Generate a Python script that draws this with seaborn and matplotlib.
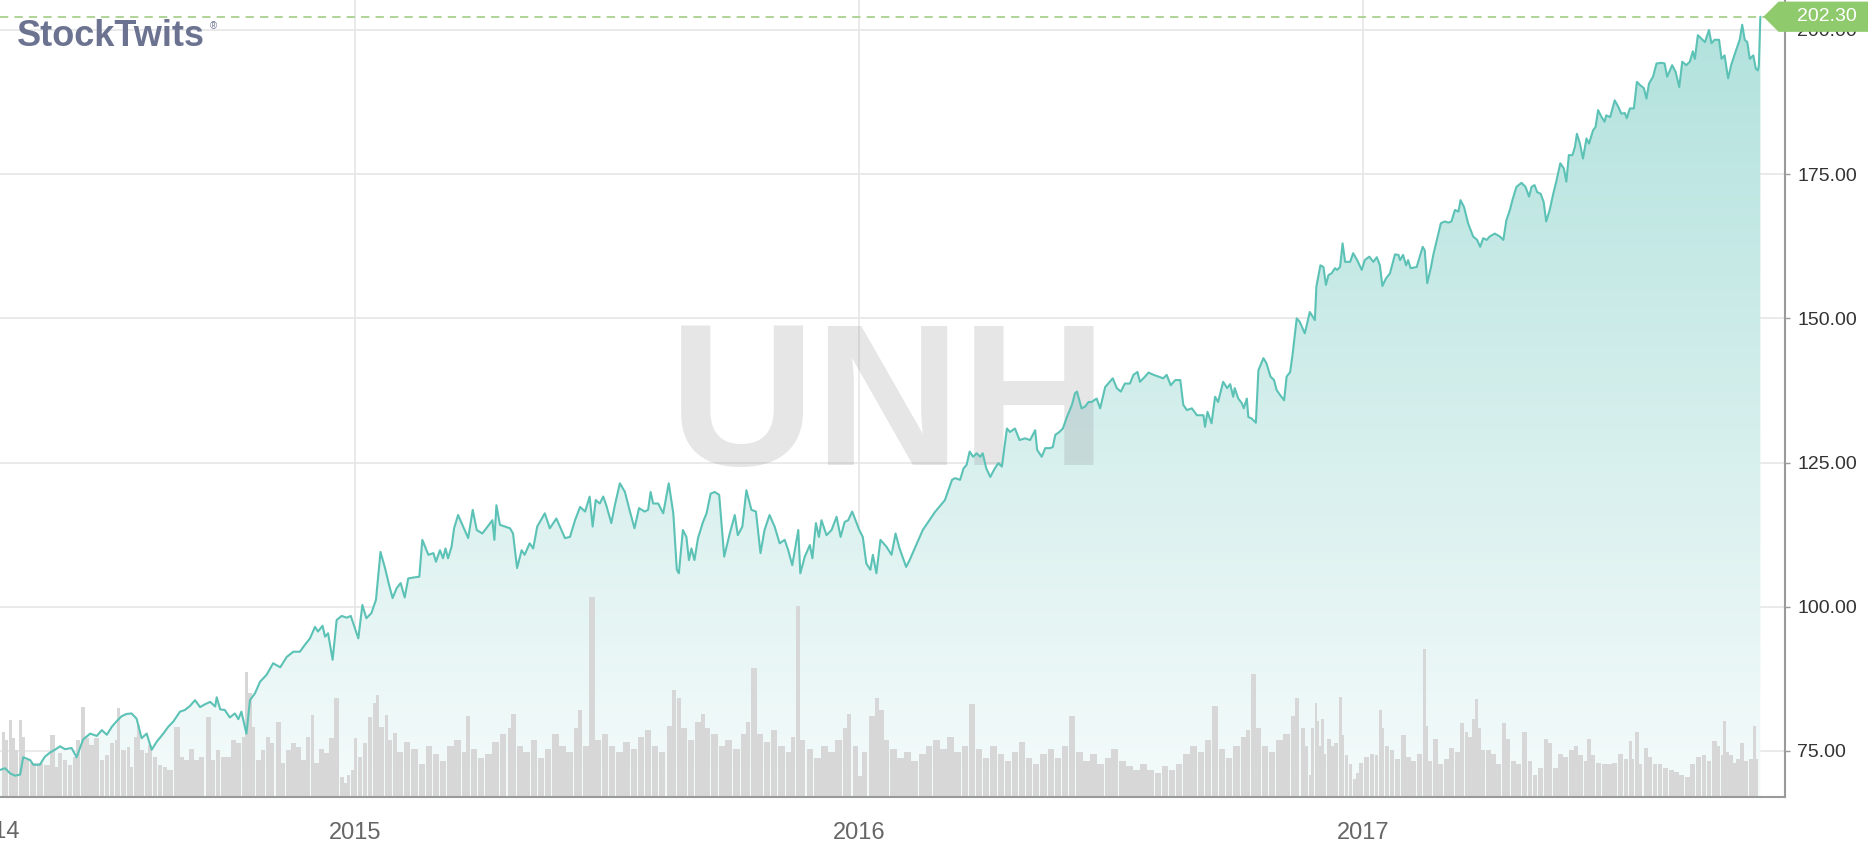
import numpy as np
import pandas as pd
import seaborn as sns
import matplotlib.pyplot as plt
from matplotlib.colors import LinearSegmentedColormap
from matplotlib.path import Path
from matplotlib.transforms import blended_transform_factory

# UNH close, x given as decimal year
price_year = [
    2014.296, 2014.306, 2014.316, 2014.326, 2014.336, 2014.342, 2014.356, 2014.362, 2014.375, 2014.385,
    2014.395, 2014.405, 2014.415, 2014.425, 2014.438, 2014.448, 2014.461, 2014.475, 2014.488, 2014.498,
    2014.508, 2014.518, 2014.527, 2014.537, 2014.547, 2014.557, 2014.567, 2014.577, 2014.587, 2014.597,
    2014.607, 2014.620, 2014.630, 2014.640, 2014.653, 2014.663, 2014.673, 2014.683, 2014.693, 2014.703,
    2014.713, 2014.723, 2014.726, 2014.733, 2014.742, 2014.752, 2014.762, 2014.769, 2014.775, 2014.785,
    2014.792, 2014.802, 2014.812, 2014.825, 2014.838, 2014.852, 2014.865, 2014.878,
    2014.891, 2014.901, 2014.911, 2014.921, 2014.927, 2014.936, 2014.941, 2014.947, 2014.956, 2014.964,
    2014.974, 2014.984, 2014.992, 2015.000, 2015.007, 2015.015, 2015.023, 2015.033, 2015.042, 2015.051,
    2015.060, 2015.068, 2015.075, 2015.083, 2015.091, 2015.099, 2015.106, 2015.119, 2015.128, 2015.134,
    2015.146, 2015.156, 2015.161, 2015.169, 2015.175, 2015.180, 2015.185, 2015.192, 2015.197, 2015.205,
    2015.215, 2015.225, 2015.234, 2015.242, 2015.253, 2015.261, 2015.273, 2015.277, 2015.281, 2015.288,
    2015.298, 2015.308, 2015.314, 2015.322, 2015.331, 2015.337, 2015.347, 2015.354, 2015.362, 2015.377,
    2015.387, 2015.400, 2015.410, 2015.417, 2015.427, 2015.437, 2015.447, 2015.457, 2015.466, 2015.472,
    2015.478,
    2015.486, 2015.493, 2015.499, 2015.509, 2015.516, 2015.526, 2015.536, 2015.546, 2015.555, 2015.564,
    2015.575, 2015.582, 2015.587, 2015.592, 2015.602, 2015.612, 2015.623, 2015.632, 2015.639, 2015.643,
    2015.651, 2015.658, 2015.663, 2015.668, 2015.674, 2015.681, 2015.691, 2015.698, 2015.706, 2015.714,
    2015.723, 2015.733, 2015.744, 2015.754, 2015.760, 2015.769, 2015.777, 2015.787, 2015.796, 2015.805,
    2015.813, 2015.823, 2015.833, 2015.843, 2015.853, 2015.860, 2015.868, 2015.880, 2015.884, 2015.893,
    2015.903, 2015.908, 2015.915, 2015.921, 2015.926, 2015.936, 2015.946, 2015.956, 2015.964, 2015.972,
    2015.979, 2015.987, 2016.001, 2016.008, 2016.015, 2016.023, 2016.028, 2016.035, 2016.043, 2016.055,
    2016.065, 2016.073, 2016.081, 2016.094, 2016.101, 2016.127, 2016.151, 2016.171,
    2016.185, 2016.191, 2016.201, 2016.208, 2016.214, 2016.220, 2016.227, 2016.234, 2016.241, 2016.246,
    2016.253, 2016.261, 2016.270, 2016.277, 2016.284, 2016.294, 2016.300, 2016.310, 2016.319, 2016.330,
    2016.340, 2016.350, 2016.354, 2016.363, 2016.370, 2016.380, 2016.385, 2016.390, 2016.398, 2016.405,
    2016.413, 2016.423, 2016.429, 2016.433, 2016.442, 2016.449, 2016.456, 2016.462, 2016.472, 2016.479,
    2016.489, 2016.495, 2016.504, 2016.512, 2016.520, 2016.528, 2016.538, 2016.545, 2016.553, 2016.558,
    2016.568, 2016.575, 2016.585, 2016.595, 2016.604, 2016.611, 2016.619, 2016.628, 2016.638, 2016.644,
    2016.651, 2016.661, 2016.671,
    2016.677, 2016.684, 2016.687, 2016.692, 2016.700, 2016.707, 2016.713, 2016.723, 2016.731, 2016.737,
    2016.743, 2016.746, 2016.753, 2016.760, 2016.764, 2016.770, 2016.773, 2016.780, 2016.788, 2016.793,
    2016.803, 2016.809, 2016.817, 2016.824, 2016.829, 2016.836, 2016.844, 2016.849, 2016.856, 2016.861,
    2016.869, 2016.875, 2016.885, 2016.895, 2016.905, 2016.908, 2016.916, 2016.922, 2016.927, 2016.932,
    2016.938, 2016.945, 2016.949, 2016.955, 2016.960, 2016.965, 2016.975, 2016.981, 2016.989, 2016.998,
    2017.004, 2017.013, 2017.021, 2017.028, 2017.034, 2017.039, 2017.046, 2017.054, 2017.064, 2017.071,
    2017.074, 2017.080, 2017.086, 2017.090, 2017.095, 2017.107, 2017.119, 2017.123, 2017.128, 2017.135,
    2017.140, 2017.147, 2017.155, 2017.163, 2017.170, 2017.176, 2017.183, 2017.190, 2017.194, 2017.201,
    2017.209, 2017.219, 2017.227, 2017.233, 2017.239, 2017.246,
    2017.252, 2017.262, 2017.272, 2017.279, 2017.285, 2017.292, 2017.297, 2017.305, 2017.315, 2017.323,
    2017.330, 2017.335, 2017.341, 2017.346, 2017.353, 2017.359, 2017.364, 2017.371, 2017.378, 2017.384,
    2017.392, 2017.399, 2017.404, 2017.409, 2017.416, 2017.421, 2017.425, 2017.431, 2017.437, 2017.444,
    2017.449, 2017.457, 2017.462, 2017.467, 2017.474, 2017.480, 2017.483, 2017.491, 2017.500, 2017.507,
    2017.513, 2017.520, 2017.524, 2017.530, 2017.538, 2017.544, 2017.551, 2017.558, 2017.563, 2017.568,
    2017.576, 2017.583, 2017.593, 2017.599, 2017.604, 2017.614, 2017.621, 2017.628, 2017.634, 2017.642,
    2017.649, 2017.655, 2017.659, 2017.665, 2017.672, 2017.679, 2017.687, 2017.692, 2017.698, 2017.707,
    2017.712, 2017.718, 2017.725, 2017.731, 2017.740, 2017.748, 2017.753, 2017.758, 2017.763, 2017.768,
    2017.775, 2017.780, 2017.784, 2017.786, 2017.789,
]
price_close = [
    71.7, 72.0, 71.1, 70.7, 70.9, 73.9, 73.4, 72.6, 72.6, 74.0,
    74.7, 75.2, 75.8, 75.3, 75.5, 73.9, 77.0, 78.0, 77.6, 78.6,
    77.8, 79.2, 80.1, 81.0, 81.4, 81.5, 80.6, 77.2, 78.0, 75.2,
    76.6, 78.0, 79.2, 80.1, 81.8, 82.1, 82.8, 83.8, 82.6, 83.1,
    83.5, 82.7, 84.3, 82.2, 82.1, 80.8, 81.5, 80.5, 81.8, 78.0,
    83.8, 85.0, 87.0, 88.2, 90.2, 89.5, 91.3, 92.2,
    92.2, 93.4, 94.5, 96.5, 95.7, 96.7, 94.8, 95.4, 90.8, 97.7,
    98.4, 98.1, 98.4, 96.3, 94.5, 100.3, 98.0, 98.9, 101.2, 109.5,
    106.7, 103.8, 101.5, 103.2, 104.1, 101.6, 104.9, 105.1, 105.2, 111.6,
    109.0, 109.3, 107.8, 109.8, 108.4, 110.1, 108.4, 110.4, 113.6, 115.9,
    113.9, 111.9, 116.8, 113.3, 112.7, 113.6, 115.0, 111.6, 117.6, 114.2,
    113.9, 113.6, 112.7, 106.7, 109.8, 109.0, 111.0, 110.1, 113.9, 116.2,
    113.6, 115.3, 113.3, 111.9, 112.1, 115.0, 117.3, 116.5, 119.1, 113.9,
    118.5,
    117.9, 119.1, 117.6, 114.5, 117.6, 121.4, 119.9, 116.5, 113.6, 117.1,
    116.5, 116.8, 119.9, 117.9, 117.9, 116.2, 121.4, 116.2, 106.4, 105.8,
    113.3, 112.1, 108.1, 110.1, 108.1, 111.9, 114.7, 116.2, 119.6, 119.9,
    119.4, 108.7, 112.7, 115.9, 112.4, 113.9, 120.2, 116.8, 116.5, 109.3,
    113.3, 115.9, 113.9, 111.0, 111.6, 109.8, 107.2, 113.3, 105.8, 108.7,
    110.7, 108.4, 114.5, 112.1, 115.0, 112.4, 113.3, 115.6, 112.1, 114.7,
    115.0, 116.5, 113.3, 112.1, 107.5, 106.4, 109.0, 105.8, 111.6, 110.4,
    109.0, 112.7, 110.1, 106.9, 108.1, 113.3, 116.4, 118.5,
    122.0, 122.3, 122.0, 124.0, 124.6, 126.9, 126.0, 126.6, 126.0, 126.6,
    124.0, 122.5, 124.0, 124.9, 124.3, 130.9, 130.3, 130.9, 128.9, 129.2,
    128.9, 130.6, 127.2, 126.0, 127.5, 127.5, 127.7, 129.8, 130.3, 130.9,
    132.9, 135.0, 137.0, 137.3, 134.4, 134.7, 135.5, 135.5, 136.1, 134.4,
    138.1, 138.7, 139.6, 137.9, 137.3, 138.7, 138.7, 140.2, 140.7, 139.0,
    139.9, 140.6, 140.2, 139.9, 139.6, 140.2, 138.4, 139.3, 139.3, 135.0,
    134.1, 134.4, 133.2,
    133.2, 133.2, 131.2, 133.8, 131.8, 136.4, 135.5, 139.0, 137.9, 138.6,
    136.4, 137.9, 136.1, 135.3, 134.4, 136.1, 132.9, 132.6, 131.9, 141.0,
    143.1, 142.2, 139.9, 139.3, 137.6, 136.7, 135.8, 139.9, 140.7, 143.9,
    150.0, 149.4, 147.4, 151.1, 149.7, 155.5, 159.2, 158.9, 155.8, 157.5,
    157.8, 158.7, 158.4, 158.9, 163.0, 159.8, 159.8, 161.3, 160.1, 158.4,
    160.1, 160.7, 159.8, 160.6, 159.2, 155.6, 156.9, 157.8, 161.1, 161.0,
    160.1, 161.0, 159.2, 160.1, 158.7, 158.9, 162.4, 161.8, 156.1, 158.7,
    161.0, 163.6, 166.5, 166.8, 166.6, 166.8, 168.8, 168.5, 170.5, 169.3,
    166.5, 164.2, 163.6, 162.4, 163.9, 163.6,
    164.2, 164.7, 164.2, 163.6, 167.0, 168.8, 170.5, 172.8, 173.5, 172.8,
    171.1, 172.8, 173.1, 171.9, 171.6, 170.2, 166.8, 168.8, 171.6, 173.7,
    176.9, 176.0, 173.7, 178.3, 178.3, 179.7, 182.0, 180.3, 177.7, 181.2,
    180.3, 182.6, 183.2, 186.1, 184.9, 184.1, 185.2, 184.9, 187.8, 186.7,
    185.5, 185.6, 184.7, 186.4, 186.4, 191.0, 190.4, 189.9, 188.1, 190.7,
    191.9, 194.2, 194.3, 194.2, 191.9, 193.9, 192.7, 190.1, 194.5, 193.9,
    194.5, 196.3, 195.0, 199.1, 198.5, 197.9, 200.0, 197.7, 198.3, 198.3,
    195.0, 195.6, 191.6, 193.9, 196.3, 198.3, 200.9, 198.3, 197.9, 195.0,
    195.6, 193.3, 193.0, 193.8, 202.3,
]

# traded volume (millions of shares), x as decimal year
volume_year = [
    2014.303, 2014.309, 2014.316, 2014.322, 2014.329, 2014.337, 2014.342, 2014.349, 2014.362, 2014.375,
    2014.389, 2014.400, 2014.408, 2014.415, 2014.425, 2014.435, 2014.445, 2014.451, 2014.460, 2014.468,
    2014.478, 2014.488, 2014.498, 2014.508, 2014.518, 2014.527, 2014.531, 2014.541, 2014.551, 2014.557,
    2014.564, 2014.570, 2014.577, 2014.587, 2014.594, 2014.604, 2014.613, 2014.623, 2014.633, 2014.647,
    2014.656, 2014.666, 2014.676, 2014.686, 2014.696, 2014.709, 2014.719, 2014.729, 2014.739, 2014.749,
    2014.759, 2014.769, 2014.779, 2014.785, 2014.792, 2014.799, 2014.809, 2014.818, 2014.828, 2014.835,
    2014.848, 2014.858, 2014.868, 2014.878, 2014.888, 2014.898, 2014.908, 2014.916, 2014.924, 2014.934,
    2014.944, 2014.954, 2014.964, 2014.974, 2014.981, 2014.987, 2014.996, 2015.002, 2015.010, 2015.020,
    2015.030, 2015.040, 2015.045, 2015.053, 2015.063, 2015.070, 2015.080,
    2015.090, 2015.104, 2015.119, 2015.133, 2015.147, 2015.161, 2015.175, 2015.190, 2015.204, 2015.218,
    2015.225, 2015.237, 2015.251, 2015.265, 2015.279, 2015.294, 2015.308, 2015.315, 2015.327, 2015.341,
    2015.355, 2015.369, 2015.383, 2015.398, 2015.412, 2015.426, 2015.440, 2015.447, 2015.459, 2015.471,
    2015.483, 2015.497, 2015.511, 2015.525, 2015.539, 2015.554, 2015.568, 2015.582, 2015.596, 2015.610,
    2015.624, 2015.634, 2015.643, 2015.653, 2015.667, 2015.681, 2015.691, 2015.700, 2015.714, 2015.728,
    2015.742, 2015.757, 2015.771, 2015.780, 2015.792, 2015.804, 2015.818, 2015.832, 2015.847, 2015.861,
    2015.870, 2015.880, 2015.889, 2015.903, 2015.918, 2015.932, 2015.946, 2015.960, 2015.974, 2015.981,
    2015.993, 2016.003, 2016.012, 2016.026, 2016.036, 2016.045, 2016.055, 2016.069, 2016.083, 2016.097,
    2016.111, 2016.126, 2016.140, 2016.154, 2016.168, 2016.182, 2016.196, 2016.211, 2016.225, 2016.239,
    2016.253, 2016.267, 2016.282, 2016.296, 2016.310, 2016.324, 2016.338, 2016.352, 2016.367, 2016.381,
    2016.395, 2016.409, 2016.423, 2016.438, 2016.452, 2016.466, 2016.480, 2016.494, 2016.508, 2016.523,
    2016.537, 2016.551, 2016.565, 2016.579, 2016.594, 2016.608, 2016.622, 2016.636, 2016.650, 2016.664,
    2016.679, 2016.693, 2016.707, 2016.721, 2016.735, 2016.750, 2016.764, 2016.773, 2016.783, 2016.792,
    2016.806, 2016.820, 2016.835, 2016.849, 2016.863, 2016.870,
    2016.882, 2016.889, 2016.895, 2016.900, 2016.907, 2016.911, 2016.915, 2016.920, 2016.925, 2016.933,
    2016.940, 2016.947, 2016.956, 2016.961, 2016.968, 2016.976, 2016.983, 2016.990, 2016.997, 2017.008,
    2017.019, 2017.027, 2017.035, 2017.040, 2017.048, 2017.058, 2017.069, 2017.080, 2017.091, 2017.101,
    2017.112, 2017.123, 2017.127, 2017.134, 2017.145, 2017.155, 2017.166, 2017.177, 2017.188, 2017.197,
    2017.206, 2017.213, 2017.220, 2017.226, 2017.231, 2017.238, 2017.249, 2017.260, 2017.270, 2017.281,
    2017.288, 2017.299, 2017.310, 2017.321, 2017.332, 2017.342, 2017.353, 2017.364, 2017.372, 2017.382,
    2017.393, 2017.403, 2017.414, 2017.423, 2017.432, 2017.442, 2017.449, 2017.457, 2017.468, 2017.479,
    2017.490, 2017.500, 2017.511, 2017.522, 2017.531, 2017.536, 2017.544, 2017.551, 2017.562, 2017.569,
    2017.580, 2017.590, 2017.601, 2017.612, 2017.623, 2017.633, 2017.644, 2017.655, 2017.666, 2017.677,
    2017.687, 2017.698, 2017.705, 2017.713, 2017.718, 2017.723, 2017.731, 2017.738, 2017.745, 2017.753,
    2017.761, 2017.770, 2017.777, 2017.782,
]
volume_m = [
    6.5, 5.7, 7.7, 5.9, 4.7, 7.7, 6.0, 3.7, 3.4, 3.4,
    3.2, 6.2, 3.0, 4.4, 3.7, 3.2, 4.0, 5.7, 9.0, 5.9,
    5.2, 5.9, 3.7, 4.2, 5.4, 5.7, 8.9, 4.7, 5.0, 3.0,
    6.0, 7.2, 4.7, 4.4, 5.2, 4.0, 3.2, 3.0, 2.7, 7.0,
    4.0, 3.7, 4.8, 3.7, 4.0, 8.0, 3.7, 4.7, 4.0, 4.0,
    5.7, 5.4, 6.0, 12.5, 10.4, 7.0, 3.7, 4.7, 6.0, 5.4,
    7.5, 3.4, 4.7, 5.4, 5.0, 3.7, 6.0, 8.2, 3.4, 4.8,
    4.4, 5.9, 9.9, 2.0, 1.4, 2.2, 2.7, 5.9, 4.0, 5.4,
    8.0, 9.4, 10.2, 7.0, 8.2, 5.7, 6.4,
    4.5, 5.5, 4.8, 3.3, 5.1, 4.3, 3.6, 5.1, 5.7, 4.5,
    8.1, 4.8, 3.9, 4.3, 5.5, 6.3, 6.9, 8.3, 5.1, 4.5,
    5.7, 3.9, 4.8, 6.3, 5.1, 4.5, 6.9, 8.7, 5.1, 20.0,
    5.7, 6.3, 5.1, 4.5, 5.5, 4.8, 6.0, 6.7, 5.1, 4.5,
    7.1, 10.7, 9.9, 6.9, 5.7, 7.5, 8.3, 6.9, 6.3, 5.1,
    5.7, 4.8, 6.3, 7.5, 12.9, 6.3, 5.5, 6.7, 5.1, 4.5,
    6.0, 19.1, 5.7, 4.8, 3.9, 5.1, 4.5, 5.7, 6.9, 8.3,
    5.1, 2.1, 4.5, 8.1, 9.9, 8.7, 5.7, 4.8, 3.9, 4.5,
    3.6, 4.3, 5.1, 5.7, 4.8, 6.0, 4.5, 5.1, 9.3, 4.8,
    3.9, 5.1, 4.3, 3.6, 4.5, 5.5, 3.9, 3.3, 4.3, 4.8,
    3.9, 5.1, 8.1, 4.5, 3.6, 4.3, 3.3, 3.9, 4.8, 3.6,
    3.1, 2.7, 3.3, 2.7, 2.4, 3.1, 2.7, 3.3, 4.3, 5.1,
    4.5, 5.7, 9.1, 4.8, 3.9, 5.1, 6.0, 6.7, 12.3, 6.9,
    5.1, 4.5, 5.7, 6.3, 8.1, 9.9,
    6.9, 5.1, 2.2, 6.9, 9.4, 7.6, 5.1, 7.8, 4.3, 5.8,
    5.1, 5.4, 10.0, 6.2, 4.2, 3.3, 1.8, 2.4, 3.4, 4.0,
    4.3, 4.2, 8.7, 6.9, 5.1, 4.7, 3.8, 6.2, 4.0, 3.6,
    4.3, 14.8, 7.1, 3.6, 5.8, 3.3, 3.8, 4.9, 4.5, 7.4,
    6.5, 6.0, 7.8, 9.8, 6.9, 4.7, 4.7, 4.3, 3.3, 7.4,
    5.8, 3.6, 3.3, 6.5, 3.6, 2.2, 2.9, 5.8, 5.4, 2.9,
    4.3, 4.0, 4.7, 5.1, 4.2, 3.6, 5.8, 4.2, 3.4, 3.3,
    3.3, 3.4, 4.3, 3.8, 5.6, 3.8, 6.5, 3.3, 4.9, 4.0,
    3.3, 3.3, 2.9, 2.7, 2.5, 2.2, 2.0, 3.3, 4.0, 4.2,
    3.6, 5.6, 5.1, 4.2, 7.6, 4.5, 4.2, 3.4, 3.8, 5.4,
    3.6, 3.8, 7.1, 3.8,
]

last_price = 202.30
ticker = "UNH"
price_ticks = [75, 100, 125, 150, 175, 200]
year_ticks = [2015, 2016, 2017]

df = pd.DataFrame({"year": price_year, "close": price_close})
vol = pd.DataFrame({"year": volume_year, "volume": volume_m})

sns.set_style("white")
plt.rcParams["font.family"] = ["Liberation Sans", "DejaVu Sans"]

line_col = "#5cc2b6"
grid_col = "#e6e6e6"
axis_col = "#9a9a9a"

fig = plt.figure(figsize=(18.68, 8.52), dpi=100)
ax = fig.add_axes([0, 0.0649, 0.9556, 0.9351])
x_lo, x_hi = 2014.296, 2017.838
y_lo, y_hi = 67.06, 205.2
vol_top = 79.67  # volume that would fill the whole plot height

# gradient area under the price line
fade = LinearSegmentedColormap.from_list("fade", ["#f5fbfb", "#b0e1dc"])
band = ax.fill_between(df["year"], df["close"], y_lo, color="none", lw=0)
grad = ax.imshow(np.linspace(0, 1, 256).reshape(-1, 1), cmap=fade, aspect="auto",
                 origin="lower", extent=[x_lo, x_hi, y_lo, y_hi], zorder=0.9)
grad.set_clip_path(band.get_paths()[0], transform=ax.transData)

# volume bars along the bottom, scaled into the price axis
bar_w = np.gradient(vol["year"].to_numpy()) * 0.9
ax.bar(vol["year"], vol["volume"] * (y_hi - y_lo) / vol_top, bottom=y_lo, width=bar_w,
       color="#d7d7d7", lw=0, zorder=1.0)

# ticker watermark
ax.text(0.4975, 0.4163, ticker, transform=ax.transAxes, ha="center", va="baseline",
        fontsize=146, fontweight="bold", color="#8e8e96", alpha=0.22, zorder=1.2)

sns.lineplot(data=df, x="year", y="close", ax=ax, color=line_col, lw=1.5,
             estimator=None, sort=False, zorder=3)

# last price marker
ax.axhline(last_price, color="#a9d18e", lw=1.3, dashes=(4.6, 3.4), zorder=2.5)


def tag_box(x0, y0, width, height, mutation_size):
    pl, pv, pr = 0.95 * mutation_size, 0.34 * mutation_size, 1.2 * mutation_size
    x0, y0 = x0 - pl, y0 - pv
    x1, y1 = x0 + pl + width + pr, y0 + height + 2 * pv
    h = (y1 - y0) / 2
    return Path([(x0, y0), (x1, y0), (x1, y1), (x0, y1), (x0 - h, y0 + h), (x0, y0)], closed=True)


trans = blended_transform_factory(ax.transAxes, ax.transData)
ax.text(1.0067, last_price, f"{last_price:.2f}", transform=trans, ha="left", va="center",
        fontsize=14, color="white", clip_on=False, zorder=6,
        bbox=dict(boxstyle=tag_box, fc="#8fca6c", ec="none"))

ax.set_xlim(x_lo, x_hi)
ax.set_ylim(y_lo, y_hi)
ax.set_xticks(year_ticks)
ax.set_xticklabels([str(y) for y in year_ticks])
ax.yaxis.tick_right()
ax.set_yticks(price_ticks)
ax.set_yticklabels([f"{v:.2f}" for v in price_ticks])
ax.grid(True, color=grid_col, lw=1.2)
ax.tick_params(axis="y", length=3.6, width=1, color=axis_col, pad=5, labelsize=14, labelcolor="#333333")
ax.tick_params(axis="x", length=7.2, width=1, color=axis_col, pad=11, labelsize=17, labelcolor="#666666")
ax.set_xlabel("")
ax.set_ylabel("")
for side in ["left", "top"]:
    ax.spines[side].set_visible(False)
for side in ["right", "bottom"]:
    ax.spines[side].set_color(axis_col)
    ax.spines[side].set_linewidth(1.5)

# partly visible first year label at the left edge
ax.text(2014.284, -0.044, "2014", transform=blended_transform_factory(ax.transData, ax.transAxes),
        ha="center", va="center", fontsize=17, color="#666666", clip_on=False)

# logo
fig.text(0.0089, 1 - 46.5 / 852, "StockTwits", fontsize=26, fontweight="bold", color="#6b7391",
         ha="left", va="baseline")
fig.text(0.1125, 1 - 21 / 852, "\u00ae", fontsize=7, color="#6b7391", ha="left", va="top")

fig.savefig("out.png", dpi=100)
